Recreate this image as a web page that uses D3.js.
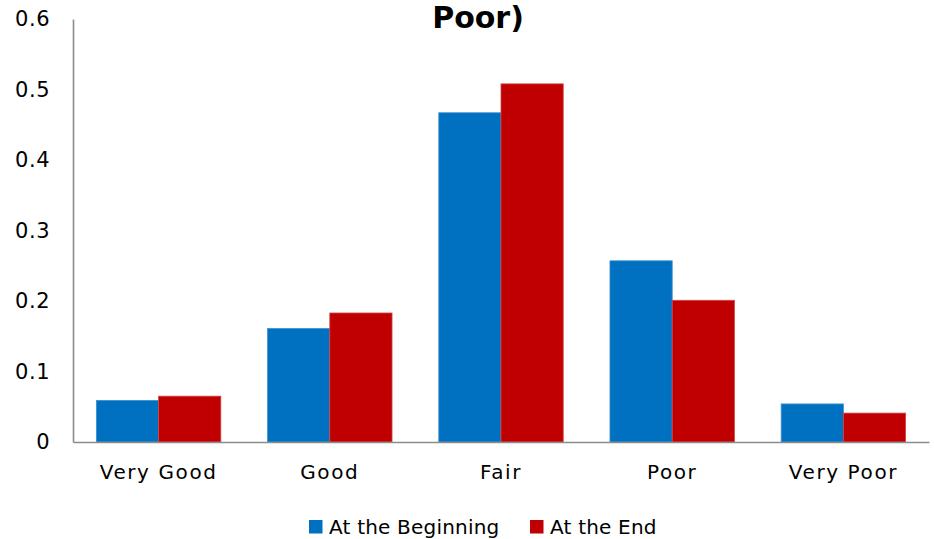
<!DOCTYPE html>
<html>
<head>
<meta charset="utf-8">
<script src="https://cdn.jsdelivr.net/npm/d3@7"></script>
<style>
  html, body { margin: 0; padding: 0; background: #fff; }
  svg { display: block; font-family: "DejaVu Sans", sans-serif; }
</style>
</head>
<body>
<svg id="chart" width="934" height="539"></svg>
<script>
// Ratings and the share of responses at the beginning and end
const categories = ["Very Good", "Good", "Fair", "Poor", "Very Poor"];
const seriesNames = ["At the Beginning", "At the End"];
const atBeginning = [0.059, 0.161, 0.467, 0.257, 0.054];
const atEnd = [0.065, 0.183, 0.508, 0.201, 0.041];
const yTicks = [0, 0.1, 0.2, 0.3, 0.4, 0.5, 0.6];
const titleText = "Poor)";

const colors = ["#0070C0", "#C00000"];
const strokes = ["#3d8fd0", "#d04848"];

const svg = d3.select("#chart");
const margin = { left: 73, right: 5, top: 19, bottom: 97 };
const W = 934, H = 539;

const x0 = d3.scaleBand()
  .domain(categories)
  .range([margin.left, W - margin.right])
  .paddingInner(0.273)
  .paddingOuter(0.1365);

const x1 = d3.scaleBand()
  .domain(seriesNames)
  .range([0, x0.bandwidth()]);

const y = d3.scaleLinear()
  .domain([0, 0.6])
  .range([H - margin.bottom, margin.top]);

const rows = categories.map((c, i) => ({
  category: c,
  values: [atBeginning[i], atEnd[i]]
}));

// Bars
const groups = svg.append("g")
  .selectAll("g")
  .data(rows)
  .join("g")
  .attr("transform", d => `translate(${x0(d.category)},0)`);

groups.selectAll("rect")
  .data(d => d.values.map((v, k) => ({ key: seriesNames[k], value: v, k })))
  .join("rect")
  .attr("x", d => x1(d.key))
  .attr("y", d => y(d.value))
  .attr("width", x1.bandwidth())
  .attr("height", d => y(0) - y(d.value))
  .attr("fill", d => colors[d.k])
  .attr("stroke", d => strokes[d.k])
  .attr("stroke-width", 0.8);

// Y axis
const yAxis = d3.axisLeft(y)
  .tickValues(yTicks)
  .tickSize(0)
  .tickPadding(23)
  .tickFormat(d => d === 0 ? "0" : d3.format(".1f")(d));

const gy = svg.append("g")
  .attr("transform", `translate(${margin.left},0)`)
  .call(yAxis);
gy.select(".domain").attr("stroke", "#8c8c8c").attr("stroke-width", 1.6);
gy.selectAll("text")
  .attr("font-size", 21)
  .attr("fill", "#000")
  .attr("letter-spacing", "0.5px")
  .attr("font-family", "DejaVu Sans, sans-serif");

// X axis
const xAxis = d3.axisBottom(x0).tickSize(0).tickPadding(23);
const gx = svg.append("g")
  .attr("transform", `translate(0,${y(0)})`)
  .call(xAxis);
gx.select(".domain").attr("stroke", "#8c8c8c").attr("stroke-width", 1.6);
gx.selectAll("text")
  .attr("font-size", 20)
  .attr("fill", "#000")
  .attr("letter-spacing", "1.6px")
  .attr("font-family", "DejaVu Sans, sans-serif");

// Title (last line)
svg.append("text")
  .attr("x", 478)
  .attr("y", 28)
  .attr("text-anchor", "middle")
  .attr("font-size", 30)
  .attr("font-weight", "bold")
  .attr("fill", "#000")
  .text(titleText);

// Legend
const legendItems = [
  { name: seriesNames[0], color: colors[0], x: 309 },
  { name: seriesNames[1], color: colors[1], x: 530 }
];
const lg = svg.append("g");
legendItems.forEach(it => {
  lg.append("rect")
    .attr("x", it.x)
    .attr("y", 520)
    .attr("width", 13.5)
    .attr("height", 13.5)
    .attr("fill", it.color);
  lg.append("text")
    .attr("x", it.x + 20)
    .attr("y", 534)
    .attr("font-size", 20)
    .attr("letter-spacing", "0.2px")
    .attr("fill", "#000")
    .text(it.name);
});
</script>
</body>
</html>
